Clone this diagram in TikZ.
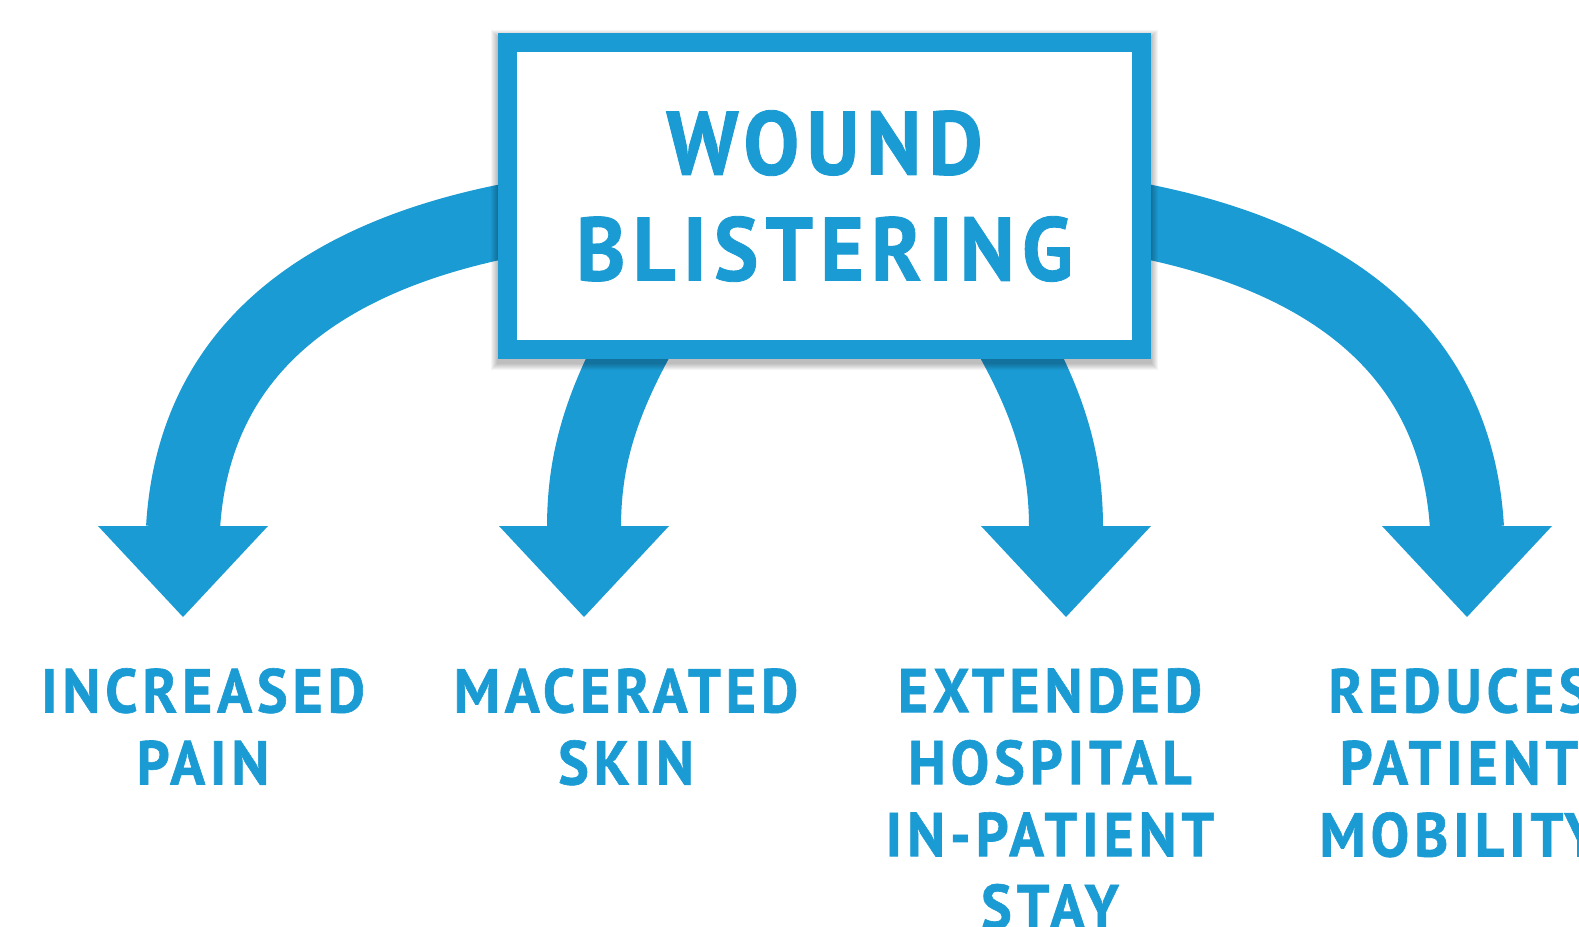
\documentclass[tikz,border=0pt]{standalone}
\usepackage{fontspec}
\setmainfont{PT Sans}
\newfontfamily\woundfont[FakeStretch=0.93, LetterSpace=8, FakeBold=1]{PT Sans}
\usetikzlibrary{calc,backgrounds}
\definecolor{woundblue}{HTML}{1B9BD3}

\begin{document}
\begin{tikzpicture}[
    x=1pt, y=-1pt,
    box/.style={draw=woundblue, line width=19pt, fill=white, minimum width=634pt, minimum height=307pt, inner sep=0pt, align=center, text=woundblue, font=\woundfont\bfseries\fontsize{90}{106}\selectfont},
    effect/.style={anchor=north, inner sep=0pt, align=center, text=woundblue, font=\woundfont\bfseries\fontsize{62}{72}\selectfont},
    band/.style={draw=woundblue, line width=74pt},
    head/.style={fill=woundblue},
    haze/.style={fill=black, opacity=0.04}
  ]
  \useasboundingbox (0,0) rectangle (1579,926);

  \node[box] (wound) at (824.5,196) {WOUND\\BLISTERING};

  \node[effect] (pain) at (203,668) {INCREASED\\PAIN};
  \node[effect] (skin) at (626,668) {MACERATED\\SKIN};
  \node[effect] (stay) at (1050,668) {EXTENDED\\HOSPITAL\\IN-PATIENT\\STAY};
  \node[effect] (mobility) at (1459,668) {REDUCES\\PATIENT\\MOBILITY};

  \coordinate (pain-tip) at (183,617);
  \coordinate (skin-tip) at (584,617);
  \coordinate (stay-tip) at (1066,617);
  \coordinate (mobility-tip) at (1467,617);

  \begin{scope}[on background layer]
    \fill[white] (0,0) rectangle (1579,926);
    % bands start hidden under the box
    \draw[band] ($(wound.west)+(60,16)$) .. controls (360,240) and (195,325) .. ($(pain-tip)+(0,-89)$);
    \draw[band] ($(wound.south)+(-170,-50)$) .. controls (600,400) and (584,460) .. ($(skin-tip)+(0,-89)$);
    \draw[band] ($(wound.south)+(170,-50)$) .. controls (1050,400) and (1066,460) .. ($(stay-tip)+(0,-89)$);
    \draw[band] ($(wound.east)+(-60,16)$) .. controls (1290,240) and (1455,325) .. ($(mobility-tip)+(0,-89)$);
    \fill[head] ($(pain-tip)+(-85,-91)$) -- ($(pain-tip)+(85,-91)$) -- (pain-tip) -- cycle;
    \fill[head] ($(skin-tip)+(-85,-91)$) -- ($(skin-tip)+(85,-91)$) -- (skin-tip) -- cycle;
    \fill[head] ($(stay-tip)+(-85,-91)$) -- ($(stay-tip)+(85,-91)$) -- (stay-tip) -- cycle;
    \fill[head] ($(mobility-tip)+(-85,-91)$) -- ($(mobility-tip)+(85,-91)$) -- (mobility-tip) -- cycle;
    % soft shadow of the box
    \foreach \spread in {1,...,7}
      \fill[haze] ($(wound.south west)+(-\spread,\spread+4)$) rectangle ($(wound.north east)+(\spread,-\spread+4)$);
  \end{scope}
\end{tikzpicture}
\end{document}
